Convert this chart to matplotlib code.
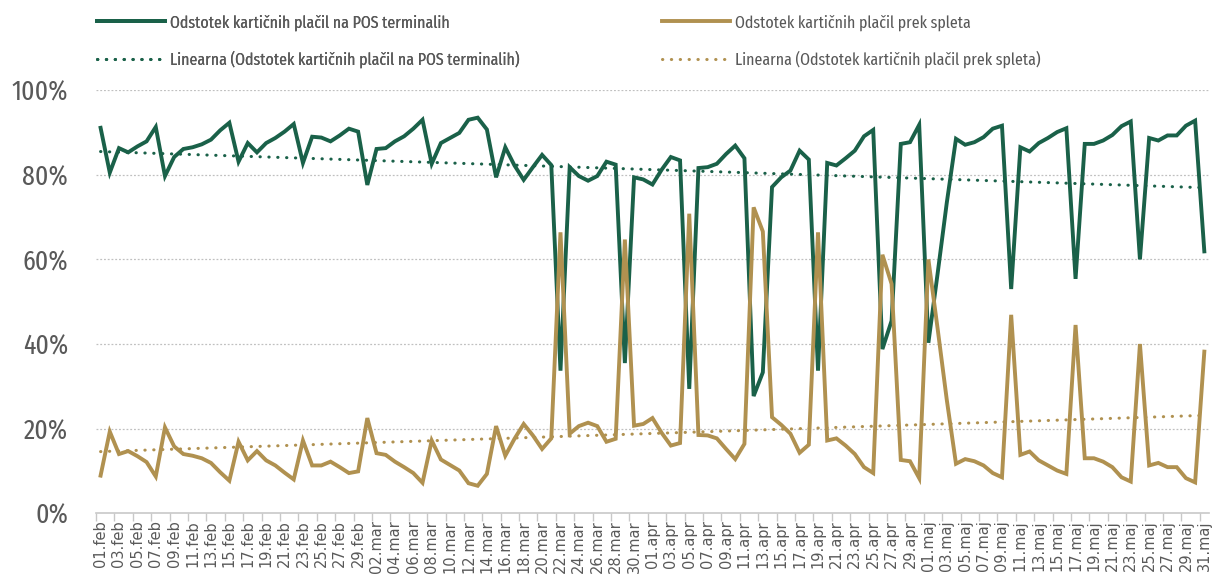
import datetime as dt
import numpy as np
import matplotlib
matplotlib.use("Agg")
import matplotlib.pyplot as plt
from matplotlib.ticker import FixedLocator, FuncFormatter

cond_font = ['Fira Sans Extra Condensed', 'Archivo Narrow', 'DejaVu Sans']
plt.rcParams['font.family'] = cond_font

# daily data 01.feb - 31.maj 2020
start = dt.date(2020, 2, 1)
month_names = {2: 'feb', 3: 'mar', 4: 'apr', 5: 'maj'}

pos = [91.1, 80.5, 86.3, 85.3, 86.7, 87.9, 91.3, 79.7, 84.2, 86.1,
       86.5, 87.2, 88.3, 90.5, 92.3, 83.1, 87.5, 85.3, 87.5, 88.7,
       90.2, 92.0, 82.8, 89.0, 88.8, 87.9, 89.3, 90.9, 90.2, 77.6,
       86.1, 86.3, 87.9, 89.1, 90.9, 93.0, 82.6, 87.5, 88.7, 89.9,
       93.0, 93.5, 90.7, 79.4, 86.5, 82.2, 78.8, 81.8, 84.7, 82.3,
       33.7, 81.8, 79.7, 78.6, 79.7, 83.1, 82.4, 35.5, 79.4, 78.9,
       77.7, 81.2, 84.2, 83.4, 29.4, 81.6, 81.8, 82.6, 84.9, 86.9,
       83.9, 27.7, 33.3, 77.1, 79.4, 81.0, 85.7, 83.6, 33.7, 82.8,
       82.2, 83.9, 85.7, 89.1, 90.6, 38.8, 45.5, 87.3, 87.7, 91.8,
       40.3, 56.6, 73.4, 88.5, 87.1, 87.7, 88.9, 90.9, 91.6, 53.0,
       86.5, 85.5, 87.5, 88.7, 90.1, 91.0, 55.4, 87.3, 87.3, 88.1,
       89.4, 91.5, 92.6, 60.0, 88.7, 88.1, 89.3, 89.3, 91.6, 92.8,
       61.9]

web = [8.9, 19.3, 14.0, 14.7, 13.5, 12.1, 8.7, 20.3, 15.8, 14.0,
       13.6, 13.0, 11.9, 9.7, 7.7, 16.9, 12.5, 14.7, 12.5, 11.3,
       9.6, 8.0, 17.2, 11.3, 11.3, 12.2, 10.9, 9.5, 9.9, 22.5,
       14.2, 13.8, 12.2, 10.9, 9.5, 7.2, 17.2, 12.7, 11.4, 10.1,
       7.1, 6.5, 9.3, 20.6, 13.6, 17.6, 21.1, 18.4, 15.2, 17.7,
       66.4, 18.8, 20.6, 21.4, 20.6, 16.9, 17.6, 64.7, 20.7, 21.1,
       22.5, 19.0, 16.0, 16.6, 70.8, 18.5, 18.4, 17.7, 15.2, 12.8,
       16.4, 72.3, 66.6, 22.7, 20.9, 18.8, 14.3, 16.2, 66.4, 17.2,
       17.7, 16.0, 14.0, 10.9, 9.5, 61.1, 54.2, 12.6, 12.3, 8.3,
       60.0, 43.7, 26.8, 11.7, 12.8, 12.3, 11.3, 9.5, 8.5, 46.9,
       13.8, 14.6, 12.5, 11.3, 10.1, 9.3, 44.5, 13.0, 13.0, 12.2,
       10.9, 8.5, 7.5, 40.0, 11.3, 11.9, 10.9, 10.9, 8.3, 7.3,
       38.2]

label_pos = 'Odstotek kartičnih plačil na POS terminalih'
label_web = 'Odstotek kartičnih plačil prek spleta'

green = '#1a6149'
gold = '#b09150'
grey_txt = '#595959'

n = len(pos)
x = np.arange(n)
dates = [start + dt.timedelta(days=int(i)) for i in x]
xlabels = ['%02d.%s' % (d.day, month_names[d.month]) for d in dates]

fit_pos = np.polyval(np.polyfit(x, pos, 1), x)
fit_web = np.polyval(np.polyfit(x, web, 1), x)

fig = plt.figure(figsize=(12.15, 5.78), dpi=100)
ax = fig.add_axes([0.079, 0.112, 0.916, 0.732])

l1, = ax.plot(x, pos, color=green, lw=2.8, solid_joinstyle='miter')
l2, = ax.plot(x, web, color=gold, lw=2.8, solid_joinstyle='miter')
t1, = ax.plot(x, fit_pos, color=green, lw=2.2, linestyle=(0, (0.1, 2.8)),
              dash_capstyle='round')
t2, = ax.plot(x, fit_web, color=gold, lw=2.2, linestyle=(0, (0.1, 2.8)),
              dash_capstyle='round')

ax.set_xlim(-0.5, n - 0.5)
ax.set_ylim(0, 100)
ax.set_yticks([0, 20, 40, 60, 80, 100])
ax.yaxis.set_major_formatter(FuncFormatter(lambda v, p: '%d%%' % v))
ax.tick_params(axis='y', length=0, labelsize=20, labelcolor=grey_txt, pad=20)
for v in [20, 40, 60, 80, 100]:
    ax.axhline(v, color='#c0c0c0', lw=0.9, ls=(0, (1.5, 1.5)), zorder=0)

ax.set_xticks(x[::2])
ax.set_xticklabels(xlabels[::2], rotation=90, fontsize=10.5, color=grey_txt,
                   family='DejaVu Sans')
ax.tick_params(axis='x', which='major', length=0, pad=5)
ax.xaxis.set_minor_locator(FixedLocator(np.arange(-0.5, n, 2)))
ax.tick_params(axis='x', which='minor', length=6, color='#c8c8c8', width=1)

for s in ['top', 'right', 'left']:
    ax.spines[s].set_visible(False)
ax.spines['bottom'].set_color('#c8c8c8')
ax.spines['bottom'].set_linewidth(1.2)

leg_kw = dict(loc='upper left', frameon=False, fontsize=12.5, handlelength=3.9,
              handletextpad=0.3, labelspacing=1.15, borderpad=0,
              borderaxespad=0, labelcolor=grey_txt)
leg1 = fig.legend([l1, t1], [label_pos, 'Linearna (' + label_pos + ')'],
                  bbox_to_anchor=(97 / 1215, 0.975), **leg_kw)
fig.add_artist(leg1)
fig.legend([l2, t2], [label_web, 'Linearna (' + label_web + ')'],
           bbox_to_anchor=(662 / 1215, 0.975), **leg_kw)

fig.savefig('out.png', dpi=100)
